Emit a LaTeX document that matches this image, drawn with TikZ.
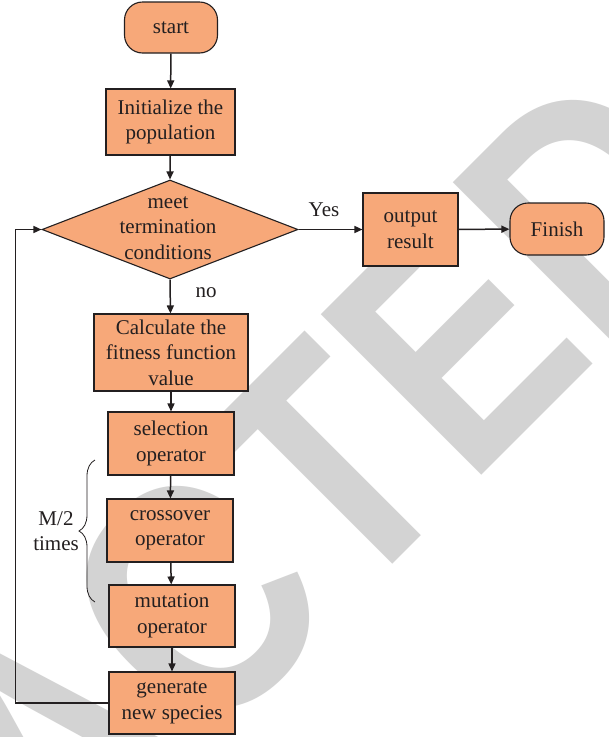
\documentclass[tikz,border=0pt]{standalone}
\usepackage{fontspec}
\setmainfont{Liberation Serif}
\newfontfamily\wmfont{Liberation Sans}
\usetikzlibrary{arrows.meta,shapes.geometric,decorations.pathreplacing}
\definecolor{boxfill}{RGB}{247,168,121}
\definecolor{ink}{RGB}{35,31,32}
\definecolor{wm}{RGB}{211,211,211}
\begin{document}
\begin{tikzpicture}[x=1pt,y=-1pt,
  box/.style={draw=ink, line width=1.1pt, fill=boxfill, text=ink, align=center,
    inner sep=0pt, font=\fontsize{21}{25.5}\selectfont},
  term/.style={box, rounded corners=18pt},
  conn/.style={draw=ink, line width=1.5pt, -{Triangle[length=8pt,width=7pt]}},
  lbl/.style={text=ink, font=\fontsize{21}{25.5}\selectfont, align=center, inner sep=0pt}]
\useasboundingbox (0,0) rectangle (609,737);
\fill[white] (0,0) rectangle (609,737);
% watermark
\begin{scope}
\clip (0,0) rectangle (609,737);
\node[anchor=base west, rotate=45, inner sep=0pt, outer sep=0pt, text=wm,
  font=\wmfont\bfseries\fontsize{330}{335}\selectfont] (wmark) at (347,610)
  {\scalebox{0.85}[1]{\llap{RETRAC}TED}};
\end{scope}
% nodes
\node[term, minimum width=93pt, minimum height=51pt] (start) at (171,27.5) {start};
\node[box, minimum width=129pt, minimum height=66pt] (init) at (170.5,122) {Initialize the\\population};
\node[diamond, draw=ink, line width=1.1pt, fill=boxfill, minimum width=256pt,
  minimum height=99pt, inner sep=0pt] (dec) at (170,229.5) {};
\node[lbl] (dectext) at (168,228) {meet\\termination\\conditions};
\node[box, minimum width=95pt, minimum height=73pt] (out) at (410.5,229.5) {output\\result};
\node[term, minimum width=94pt, minimum height=52pt] (fin) at (557,229) {Finish};
\node[box, minimum width=154pt, minimum height=77pt] (calc) at (171,352.5) {Calculate the\\fitness function\\value};
\node[box, minimum width=126pt, minimum height=63pt] (sel) at (171,443.5) {selection\\operator};
\node[box, minimum width=126pt, minimum height=63pt] (cross) at (170,530.5) {crossover\\operator};
\node[box, minimum width=126pt, minimum height=62pt] (mut) at (172,616) {mutation\\operator};
\node[box, minimum width=126pt, minimum height=62pt] (gen) at (172,703) {generate\\new species};
\node[lbl] (yes) at (324,210) {Yes};
\node[lbl] (no) at (206,293) {no};
\node[lbl] (mtimes) at (56,531) {M/2\\times};
% connectors
\draw[conn] (start) -- (init);
\draw[conn] (init) -- (dec.north);
\draw[conn] (dec.south) -- (calc);
\draw[conn] (dec.east) -- (out);
\draw[conn] (out) -- (fin);
\draw[conn] (calc) -- (sel);
\draw[conn] (sel) -- (cross);
\draw[conn] (cross) -- (mut);
\draw[conn] (mut) -- (gen);
\coordinate (loopc) at (15.5,703);
\draw[conn] (gen.west) -- (loopc) |- (dec.west);
% brace
\coordinate (bb) at (95,602);
\coordinate (bt) at (95,460);
\draw[ink, line width=0.8pt, decorate, decoration={brace, amplitude=16pt}] (bb) -- (bt);
\end{tikzpicture}
\end{document}
